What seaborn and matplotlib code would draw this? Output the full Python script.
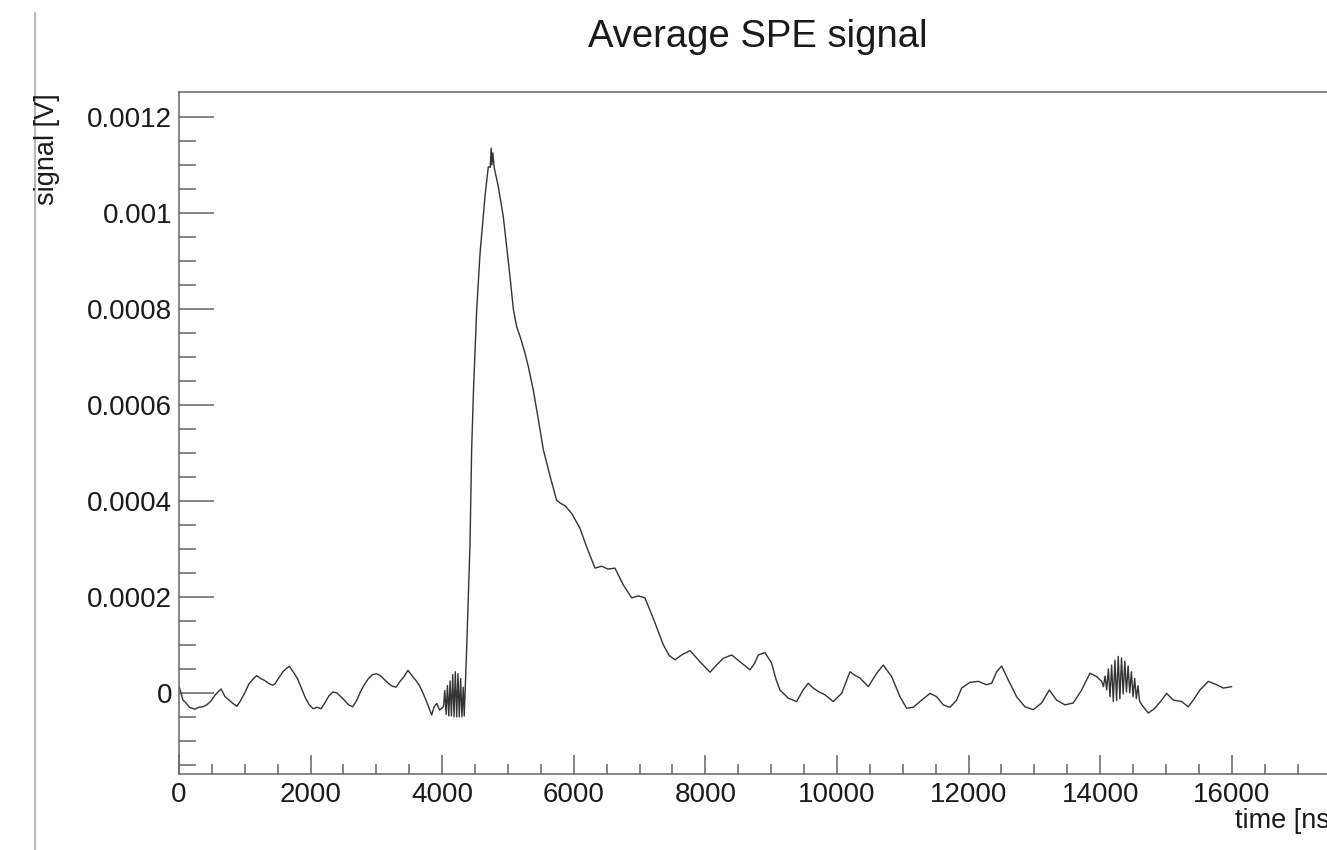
import numpy as np
import pandas as pd
import seaborn as sb
import matplotlib.pyplot as plt
from matplotlib.lines import Line2D
from matplotlib.ticker import MultipleLocator, FixedLocator, FuncFormatter

# waveform, time in ns, signal in microvolts
pre_t = [0, 20, 60, 100, 160, 240, 300, 360, 420, 480, 540, 600, 640, 700, 760, 820,
         880, 940, 1000, 1060, 1120, 1180, 1240, 1300, 1360, 1420, 1460, 1520, 1580,
         1640, 1680, 1740, 1800, 1860, 1920, 1980, 2040, 2100, 2160, 2220, 2280, 2340,
         2400, 2460, 2520, 2580, 2640, 2700, 2760, 2820, 2880, 2940, 3000, 3060, 3120,
         3180, 3240, 3300, 3360, 3420, 3480, 3540, 3600, 3660, 3720, 3780, 3840, 3880,
         3920, 3960, 4020]
pre_uv = [13, 5, -15, -20, -30, -34, -30, -29, -25, -18, -6, 3, 8, -8, -15, -22,
          -28, -15, 0, 18, 28, 36, 30, 26, 20, 16, 19, 32, 44,
          52, 55, 43, 30, 10, -10, -25, -33, -30, -33, -20, -6, 2,
          0, -8, -16, -25, -29, -16, 3, 18, 30, 38, 40, 36, 28,
          20, 14, 12, 24, 34, 47, 36, 26, 14, -4, -24, -46, -28,
          -22, -36, -29]

# ringing just before the pulse
ring1_t = [4040, 4060, 4080, 4100, 4120, 4140, 4160, 4180, 4200, 4220, 4240, 4260,
           4280, 4300, 4320, 4335]
ring1_uv = [5, -45, 15, -48, 25, -48, 38, -50, 44, -50, 40, -50, 30, -50, 12, -48]

# the pulse itself
pulse_t = [4372, 4423, 4448, 4473, 4524, 4575, 4651, 4701, 4730, 4745, 4755, 4770,
           4790, 4853, 4929, 4980, 5031, 5081, 5132, 5190, 5258, 5309, 5385, 5461,
           5537, 5639, 5740, 5800, 5867, 5968, 6094, 6196, 6322, 6424, 6520, 6626,
           6753, 6880, 6980, 7082, 7209, 7361, 7450, 7538, 7650, 7766, 7918, 8070]
pulse_uv = [92, 311, 507, 620, 797, 915, 1035, 1096, 1095, 1135, 1100, 1125,
            1095, 1055, 992, 930, 867, 800, 763, 740, 708, 680, 631, 570,
            507, 452, 401, 395, 390, 374, 343, 304, 260, 264, 258, 260,
            225, 198, 202, 198, 155, 100, 78, 69, 80, 88, 65, 43]

tail_t = [8170, 8272, 8400, 8526, 8678, 8750, 8804, 8906, 9007, 9070, 9134, 9260,
          9388, 9480, 9564, 9640, 9716, 9818, 9944, 10071, 10198, 10280, 10350, 10476,
          10604, 10704, 10831, 10958, 11059, 11160, 11288, 11414, 11516, 11616, 11718,
          11819, 11895, 12021, 12148, 12275, 12351, 12427, 12503, 12604, 12731, 12857,
          12984, 13111, 13227, 13338, 13465, 13592, 13719, 13845, 13947, 14023, 14050]
tail_uv = [58, 72, 79, 65, 48, 62, 79, 84, 62, 30, 6, -11,
           -18, 5, 20, 10, 3, -4, -18, -1, 44, 36, 31, 13,
           41, 58, 34, -8, -32, -30, -15, -1, -8, -25, -30,
           -15, 10, 22, 24, 17, 20, 44, 56, 27, -8, -29,
           -35, -21, 6, -15, -25, -21, 6, 41, 34, 24, 13]

# second burst of ringing
ring2_t = [14075, 14100, 14125, 14150, 14175, 14200, 14225, 14250, 14275, 14300, 14325,
           14350, 14375, 14400, 14425, 14450, 14475, 14500, 14525, 14550, 14575, 14600]
ring2_uv = [35, 6, 50, -8, 58, -18, 68, -16, 76, -12, 73,
            -2, 66, 2, 56, 0, 44, -8, 30, -12, 15, -18]

end_t = [14656, 14732, 14833, 14935, 15011, 15112, 15239, 15340, 15416, 15517, 15644,
         15771, 15872, 16000]
end_uv = [-29, -42, -32, -15, -1, -15, -18, -29, -15, 6, 24, 17, 10, 13]

time_ns = pre_t + ring1_t + pulse_t + tail_t + ring2_t + end_t
signal_uv = pre_uv + ring1_uv + pulse_uv + tail_uv + ring2_uv + end_uv
df = pd.DataFrame({'time': time_ns, 'signal': np.array(signal_uv) * 1e-6})

sb.set_theme(style='ticks')
plt.rcParams['font.family'] = ['Liberation Sans', 'DejaVu Sans']

fig = plt.figure(figsize=(13.27, 8.5), dpi=100)
ax = fig.add_axes([179 / 1327, 1 - 774 / 850, (1337 - 179) / 1327, (774 - 92) / 850])

sb.lineplot(x='time', y='signal', data=df, ax=ax, estimator=None, sort=False,
            color='#333333', linewidth=1.0)

ax.set_xlim(0, 17600)
ax.set_ylim(-0.000169, 0.001252)
ax.xaxis.set_major_locator(MultipleLocator(2000))
ax.xaxis.set_minor_locator(MultipleLocator(500))
ax.yaxis.set_major_locator(MultipleLocator(0.0002))
# no minor tick right under the top frame line
ax.yaxis.set_minor_locator(FixedLocator(np.arange(-3, 25) * 0.00005))
ax.yaxis.set_major_formatter(FuncFormatter(lambda v, p: '%g' % round(v, 6)))
ax.xaxis.set_major_formatter(FuncFormatter(lambda v, p: '%d' % v))

ax.tick_params(axis='y', which='major', direction='in', length=25, width=1.1,
               color='#666666', labelsize=20, labelcolor='#1a1a1a', pad=5)
ax.tick_params(axis='y', which='minor', direction='in', length=12, width=1.1, color='#666666')
ax.tick_params(axis='x', which='major', direction='in', length=14, width=1.1,
               color='#666666', labelsize=20, labelcolor='#1a1a1a', pad=6)
ax.tick_params(axis='x', which='minor', direction='in', length=7, width=1.1, color='#666666')

for s in ax.spines.values():
    s.set_color('#666666')
    s.set_linewidth(1.1)
    s.set_visible(True)

ax.set_xlabel('')
ax.set_ylabel('')

fig.text(758 / 1327, 1 - 47 / 850, 'Average SPE signal', fontsize=27.5,
         ha='center', va='baseline', color='#1a1a1a')
fig.text(47 / 1327, 1 - 93 / 850, 'signal [V]', fontsize=19.5, rotation=90,
         ha='center', va='top', color='#1a1a1a')
# the x title runs past the right edge of the picture, as in the reference
fig.text(1337 / 1327, 1 - 828 / 850, 'time [ns]', fontsize=19.5,
         ha='right', va='baseline', color='#1a1a1a')

# thin grey border line at the left of the picture
fig.add_artist(Line2D([35 / 1327, 35 / 1327], [0, 1 - 13 / 850], transform=fig.transFigure,
                      color='#b8b8b8', linewidth=1.5))

fig.savefig('out.png', dpi=100)
